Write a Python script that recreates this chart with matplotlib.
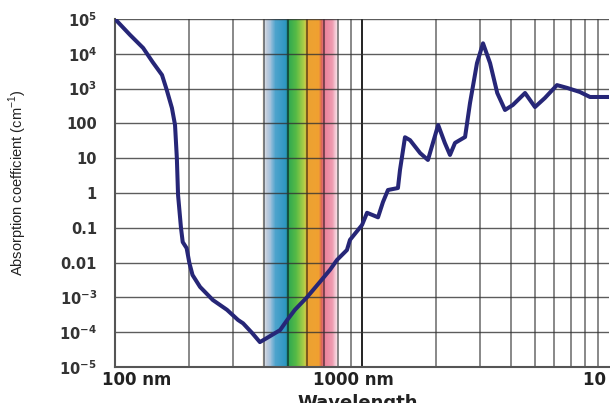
import numpy as np
import matplotlib
matplotlib.use("Agg")
import matplotlib.pyplot as plt
from matplotlib.colors import LinearSegmentedColormap
from matplotlib.transforms import ScaledTranslation

# water absorption curve (nm, cm^-1)
wavelength_nm = [100, 115, 130, 142, 155, 162, 170, 175, 178, 180, 185, 188, 195,
                 200, 206, 221, 249, 284, 315, 330, 359, 386, 412, 466, 497, 535,
                 598, 676, 742, 792, 869, 894, 1000, 1048, 1108, 1161, 1216, 1274,
                 1398, 1425, 1493, 1565, 1720, 1849, 2034, 2164, 2271, 2380, 2614,
                 2737, 2921, 3090, 3300, 3528, 3793, 4081, 4572, 5015, 5500, 6156,
                 6757, 7620, 8375, 10090]
absorption = [1e5, 3.5e4, 1.47e4, 5.8e3, 2.46e3, 912, 277, 90, 10, 0.88, 0.099,
              0.039, 0.026, 0.0098, 4.4e-3, 2.0e-3, 8.4e-4, 4.4e-4, 2.24e-4,
              1.8e-4, 9.5e-5, 5.2e-5, 6.8e-5, 1.15e-4, 2.2e-4, 4.4e-4, 1.0e-3,
              2.8e-3, 6.2e-3, 0.0119, 0.023, 0.045, 0.12, 0.27, 0.23, 0.20, 0.55,
              1.22, 1.39, 4.6, 40, 33, 14, 8.9, 90, 27.5, 12.4, 27.5, 40.7, 385,
              5.4e3, 2.0e4, 5.4e3, 748, 243, 339, 748, 295, 537, 1.26e3, 1.05e3,
              800, 574, 574]

# visible band colour stops
band_nm = [395, 402, 410, 425, 445, 488, 497, 503, 512, 545, 585, 600, 670,
           688, 702, 760, 795, 800]
band_colors = ['#fbf4e8', '#dde3ea', '#c2cddb', '#a5c2dc', '#4ea3cc', '#2f97c2',
               '#1f8a96', '#2a9a6a', '#37ac4e', '#5cbc44', '#b8cf48', '#eba232',
               '#f0a030', '#d8605a', '#e97f98', '#ee9cb0', '#f8e4ea', '#ffffff']

ytick_vals = [1e-5, 1e-4, 1e-3, 1e-2, 1e-1, 1, 10, 100, 1e3, 1e4, 1e5]
ytick_labels = [r'$\mathbf{10^{-5}}$', r'$\mathbf{10^{-4}}$', r'$\mathbf{10^{-3}}$',
                '0.01', '0.1', '1', '10', '100', r'$\mathbf{10^{3}}$',
                r'$\mathbf{10^{4}}$', r'$\mathbf{10^{5}}$']
xtick_vals = [100, 1000, 10000]
xtick_labels = ['100 nm', '1000 nm', '10 µm']

plt.rcParams['mathtext.default'] = 'bf'

fig = plt.figure(figsize=(6.1, 4.03), dpi=100)
ax = fig.add_axes([115/610, 1-367/403, 494/610, 348/403])
ax.set_xscale('log')
ax.set_yscale('log')
ax.set_xlim(100, 10000)
ax.set_ylim(1e-5, 1e5)

# spectrum band
log_stops = np.log10(band_nm)
pos = (log_stops - log_stops[0]) / (log_stops[-1] - log_stops[0])
cmap = LinearSegmentedColormap.from_list('vis', list(zip(pos, band_colors)))
xe = np.geomspace(band_nm[0], band_nm[-1], 400)
xc = np.sqrt(xe[:-1]*xe[1:])
cval = (np.log10(xc) - log_stops[0]) / (log_stops[-1] - log_stops[0])
ax.pcolormesh(xe, [1e-5, 1e5], cval[np.newaxis, :], cmap=cmap, vmin=0, vmax=1,
              shading='flat', zorder=0)

# grid
for dec in [100, 1000]:
    for k in range(1, 10):
        v = dec*k
        if v == 100:
            continue
        if v == 1000:
            ax.axvline(v, color='#111111', lw=1.3, zorder=1)
        else:
            ax.axvline(v, color='black', alpha=0.5, lw=1.3, zorder=1)
for v in ytick_vals:
    ax.axhline(v, color='#333333', alpha=0.8, lw=1.0, zorder=1)

ax.plot(wavelength_nm, absorption, color='#262677', lw=2.9,
        solid_joinstyle='round', solid_capstyle='round', zorder=3)

ax.spines['top'].set_visible(False)
ax.spines['right'].set_visible(False)
ax.spines['left'].set_color('#555555')
ax.spines['bottom'].set_color('#555555')
ax.spines['left'].set_linewidth(1.5)
ax.spines['bottom'].set_linewidth(1.5)

ax.set_yticks(ytick_vals)
ax.set_yticklabels(ytick_labels)
ax.yaxis.set_minor_locator(matplotlib.ticker.NullLocator())
ax.xaxis.set_minor_locator(matplotlib.ticker.NullLocator())
ax.tick_params(axis='y', length=0, pad=13, labelsize=10.5, labelcolor='#333333')
for t in ax.get_yticklabels():
    t.set_fontweight('bold')

ax.set_xticks(xtick_vals)
ax.set_xticklabels(xtick_labels)
ax.tick_params(axis='x', length=0, pad=3, labelsize=12, labelcolor='#222222')
xl = ax.get_xticklabels()
for t in xl:
    t.set_fontweight('bold')
xl[0].set_ha('left')
xl[0].set_transform(xl[0].get_transform() + ScaledTranslation(-13/100, 0, fig.dpi_scale_trans))
xl[1].set_transform(xl[1].get_transform() + ScaledTranslation(-9/100, 0, fig.dpi_scale_trans))
xl[2].set_ha('left')
xl[2].set_transform(xl[2].get_transform() + ScaledTranslation(-26/100, 0, fig.dpi_scale_trans))

ax.set_xlabel('Wavelength', fontsize=13, fontweight='bold', color='#222222', labelpad=1)
ax.xaxis.set_label_coords((358-115)/494, -0.078)
ax.set_ylabel('Absorption coefficient (cm$^{\\mathregular{-1}}$)', fontsize=10.5,
              family=['Liberation Sans', 'DejaVu Sans'], color='#222222')
ax.yaxis.set_label_coords((29-115)/494, 0.53)

fig.savefig('out.png', dpi=100, facecolor='white')
